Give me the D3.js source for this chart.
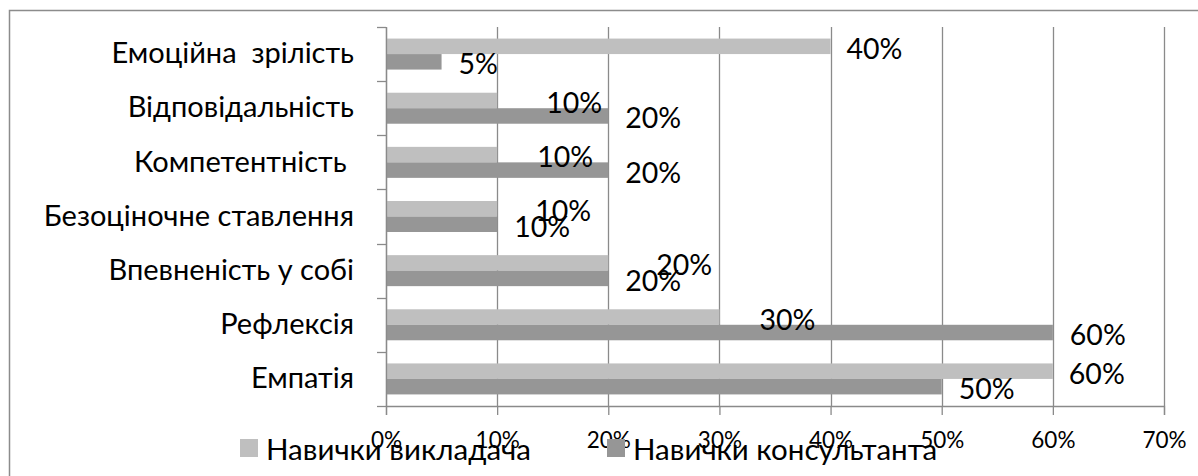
<!DOCTYPE html>
<html>
<head>
<meta charset="utf-8">
<script src="https://cdn.jsdelivr.net/npm/d3@7"></script>
<style>
  body { margin: 0; background: #fff; }
  text { font-family: Lato, "Noto Sans", sans-serif; fill: #000; white-space: pre; }
</style>
</head>
<body>
<div id="chart"></div>
<script>
var svgWidth = 1198;
var svgHeight = 476;

// data
var categories = ["Емоційна  зрілість", "Відповідальність", "Компетентність ", "Безоціночне ставлення",
  "Впевненість у собі", "Рефлексія", "Емпатія"];
var seriesNames = ["Навички викладача", "Навички консультанта"];
var teacherValues = [0.40, 0.10, 0.10, 0.10, 0.20, 0.30, 0.60];
var consultantValues = [0.05, 0.20, 0.20, 0.10, 0.20, 0.60, 0.50];
var xTicks = [0, 0.1, 0.2, 0.3, 0.4, 0.5, 0.6, 0.7];

// labels of the light bars were dragged around in the original
var teacherLabelShift = [16, 49, 40, 38, 48, 40, 16];

var colors = ["#bfbfbf", "#969696"];

var plot = { left: 386, right: 1164, top: 27, bottom: 406 };

var svg = d3.select("#chart")
  .append("svg")
  .attr("width", svgWidth)
  .attr("height", svgHeight);

// outer frame (only top and left edges are inside the picture)
svg.append("rect")
  .attr("x", 9.5)
  .attr("y", 10.5)
  .attr("width", 1300)
  .attr("height", 600)
  .attr("fill", "none")
  .attr("stroke", "#8c8c8c")
  .attr("stroke-width", 1.5);

var xScale = d3.scaleLinear()
  .domain([0, 0.7])
  .range([plot.left, plot.right]);

var yScale = d3.scaleBand()
  .domain(categories)
  .range([plot.top, plot.bottom]);

var bw = yScale.bandwidth();
var groupH = 31;
var ySub = d3.scaleBand()
  .domain(seriesNames)
  .range([(bw - groupH) / 2, (bw + groupH) / 2]);

// gridlines
svg.append("g")
  .selectAll("line")
  .data(xTicks)
  .enter()
  .append("line")
  .attr("x1", d => Math.round(xScale(d)) + 0.5)
  .attr("x2", d => Math.round(xScale(d)) + 0.5)
  .attr("y1", plot.top)
  .attr("y2", plot.bottom)
  .attr("stroke", "#8a8a8a")
  .attr("stroke-width", 1.3);

// bars
var rows = categories.map((c, i) => ({ cat: c, i: i, vals: [teacherValues[i], consultantValues[i]] }));

var rowGroups = svg.append("g")
  .selectAll("g")
  .data(rows)
  .enter()
  .append("g")
  .attr("transform", d => `translate(0, ${yScale(d.cat)})`);

rowGroups.selectAll("rect")
  .data(d => d.vals.map((v, k) => ({ v: v, k: k })))
  .enter()
  .append("rect")
  .attr("x", xScale(0))
  .attr("y", d => ySub(seriesNames[d.k]))
  .attr("width", d => xScale(d.v) - xScale(0))
  .attr("height", ySub.bandwidth())
  .attr("fill", d => colors[d.k]);

// axes
var bottomAxis = d3.axisBottom(xScale)
  .tickValues(xTicks)
  .tickFormat(d3.format(".0%"))
  .tickSize(9)
  .tickPadding(17);

var xAxis = svg.append("g")
  .attr("transform", `translate(0, ${plot.bottom})`)
  .call(bottomAxis);

xAxis.select(".domain").attr("stroke", "#8a8a8a").attr("stroke-width", 1.3);
xAxis.selectAll(".tick line").attr("stroke", "#8a8a8a").attr("stroke-width", 1.3);
xAxis.selectAll(".tick text")
  .attr("font-size", 22.5)
  .attr("font-family", "Lato, 'Noto Sans', sans-serif")
  .attr("fill", "#000");

var leftAxis = d3.axisLeft(yScale)
  .tickSize(0)
  .tickPadding(32);

var yAxis = svg.append("g")
  .attr("transform", `translate(${plot.left}, 0)`)
  .call(leftAxis);

yAxis.select(".domain").attr("stroke", "#8a8a8a").attr("stroke-width", 1.3);
yAxis.selectAll(".tick text")
  .attr("font-size", 29)
  .attr("font-family", "Lato, 'Noto Sans', sans-serif")
  .attr("fill", "#000");

// ticks between the categories
var bounds = categories.map(c => yScale(c)).concat([plot.bottom]);
svg.append("g")
  .selectAll("line")
  .data(bounds)
  .enter()
  .append("line")
  .attr("x1", plot.left - 9)
  .attr("x2", plot.left)
  .attr("y1", d => Math.round(d) + 0.5)
  .attr("y2", d => Math.round(d) + 0.5)
  .attr("stroke", "#8a8a8a")
  .attr("stroke-width", 1.3);

// data labels
var pct = d3.format(".0%");
rowGroups.selectAll("text.val")
  .data(d => d.vals.map((v, k) => ({ v: v, k: k, i: d.i })))
  .enter()
  .append("text")
  .attr("class", "val")
  .attr("x", d => xScale(d.v) + (d.k === 0 ? teacherLabelShift[d.i] : 17))
  .attr("y", d => ySub(seriesNames[d.k]) + ySub.bandwidth() / 2 + 1.5)
  .attr("dominant-baseline", "central")
  .attr("font-size", 28.5)
  .text(d => pct(d.v));

// legend
var legendX = [240, 607];
var legend = svg.append("g")
  .selectAll("g")
  .data(seriesNames)
  .enter()
  .append("g")
  .attr("transform", (d, i) => `translate(${legendX[i]}, 439)`);

legend.append("rect")
  .attr("width", 18)
  .attr("height", 18)
  .attr("fill", (d, i) => colors[i]);

legend.append("text")
  .attr("x", 26)
  .attr("y", 9)
  .attr("dominant-baseline", "central")
  .attr("font-size", 29.5)
  .text(d => d);
</script>
</body>
</html>
